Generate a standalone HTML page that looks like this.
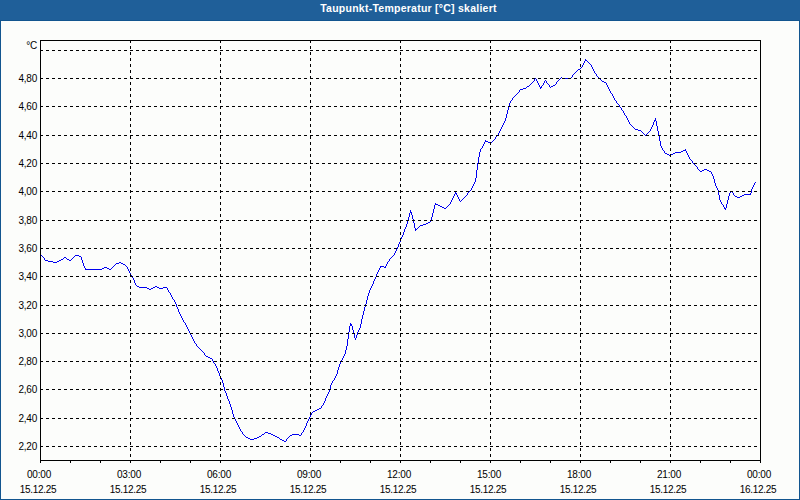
<!DOCTYPE html>
<html><head><meta charset="utf-8"><style>
html,body{margin:0;padding:0;}
body{width:800px;height:500px;position:relative;overflow:hidden;background:#12558f;font-family:"Liberation Sans",sans-serif;}

#hdr{position:absolute;left:0;top:0;width:800px;height:20px;background:#1f5f99;}
#ttl{position:absolute;left:0;top:-2px;width:817px;height:20px;line-height:20px;text-align:center;color:#fff;font-weight:bold;font-size:10.5px;letter-spacing:0.25px;}
#cnt{position:absolute;left:1px;top:21px;width:798px;height:478px;background:#fcfdfb;}
svg{position:absolute;left:0;top:0;}
.yl{position:absolute;left:0;width:37px;text-align:right;font-size:10px;line-height:12px;height:12px;color:#000;}
.xl{position:absolute;width:80px;text-align:center;font-size:10px;line-height:12px;height:12px;color:#000;}
.d{letter-spacing:-0.3px}
.t{letter-spacing:-0.2px}
.yl{letter-spacing:-0.25px}
</style></head><body>
<div id="hdr"></div><div id="ttl">Taupunkt-Temperatur [°C] skaliert</div>
<div id="cnt"></div>

<svg width="800" height="500" viewBox="0 0 800 500" shape-rendering="crispEdges"><path fill="#0000f0" d="M585 59h1v1h-1zM585 60h2v1h-2zM584 61h1v1h-1zM587 61h1v1h-1zM584 62h1v1h-1zM588 62h1v1h-1zM583 63h1v1h-1zM589 63h1v1h-1zM583 64h1v1h-1zM590 64h1v1h-1zM582 65h1v1h-1zM591 65h1v1h-1zM582 66h1v1h-1zM591 66h1v1h-1zM581 67h1v1h-1zM592 67h1v1h-1zM580 68h1v1h-1zM592 68h1v1h-1zM578 69h2v1h-2zM593 69h1v1h-1zM577 70h1v1h-1zM593 70h1v1h-1zM576 71h1v1h-1zM594 71h1v1h-1zM575 72h1v1h-1zM594 72h1v1h-1zM574 73h1v1h-1zM595 73h1v1h-1zM573 74h1v1h-1zM596 74h1v1h-1zM572 75h1v1h-1zM596 75h1v1h-1zM572 76h1v1h-1zM597 76h1v1h-1zM561 77h1v1h-1zM571 77h1v1h-1zM598 77h1v1h-1zM535 78h1v1h-1zM560 78h1v1h-1zM562 78h9v1h-9zM599 78h1v1h-1zM534 79h1v1h-1zM536 79h1v1h-1zM559 79h1v1h-1zM600 79h1v1h-1zM534 80h1v1h-1zM536 80h1v1h-1zM545 80h1v1h-1zM558 80h1v1h-1zM601 80h1v1h-1zM533 81h1v1h-1zM537 81h1v1h-1zM544 81h1v1h-1zM546 81h1v1h-1zM557 81h1v1h-1zM602 81h2v1h-2zM532 82h1v1h-1zM537 82h1v1h-1zM544 82h1v1h-1zM546 82h1v1h-1zM556 82h1v1h-1zM604 82h2v1h-2zM531 83h1v1h-1zM538 83h1v1h-1zM543 83h1v1h-1zM547 83h1v1h-1zM556 83h1v1h-1zM606 83h1v1h-1zM530 84h1v1h-1zM538 84h1v1h-1zM543 84h1v1h-1zM548 84h1v1h-1zM555 84h1v1h-1zM606 84h1v1h-1zM529 85h1v1h-1zM539 85h1v1h-1zM542 85h1v1h-1zM549 85h1v1h-1zM553 85h2v1h-2zM607 85h1v1h-1zM527 86h2v1h-2zM539 86h1v1h-1zM541 86h1v1h-1zM549 86h1v1h-1zM551 86h2v1h-2zM607 86h1v1h-1zM526 87h1v1h-1zM540 87h2v1h-2zM550 87h1v1h-1zM608 87h1v1h-1zM523 88h3v1h-3zM540 88h1v1h-1zM608 88h1v1h-1zM520 89h3v1h-3zM609 89h1v1h-1zM519 90h1v1h-1zM609 90h1v1h-1zM519 91h1v1h-1zM610 91h1v1h-1zM518 92h1v1h-1zM610 92h1v1h-1zM517 93h1v1h-1zM611 93h1v1h-1zM516 94h1v1h-1zM612 94h1v1h-1zM515 95h1v1h-1zM612 95h1v1h-1zM514 96h1v1h-1zM613 96h1v1h-1zM513 97h1v1h-1zM613 97h1v1h-1zM512 98h1v1h-1zM614 98h1v1h-1zM512 99h1v1h-1zM614 99h1v1h-1zM511 100h1v1h-1zM615 100h1v1h-1zM510 101h1v1h-1zM616 101h1v1h-1zM510 102h1v1h-1zM616 102h1v1h-1zM509 103h1v1h-1zM617 103h1v1h-1zM509 104h1v1h-1zM618 104h1v1h-1zM509 105h1v1h-1zM619 105h1v1h-1zM508 106h1v1h-1zM619 106h1v1h-1zM508 107h1v1h-1zM620 107h1v1h-1zM508 108h1v1h-1zM621 108h1v1h-1zM508 109h1v1h-1zM621 109h1v1h-1zM507 110h1v1h-1zM622 110h1v1h-1zM507 111h1v1h-1zM623 111h1v1h-1zM507 112h1v1h-1zM623 112h1v1h-1zM507 113h1v1h-1zM624 113h1v1h-1zM506 114h1v1h-1zM624 114h1v1h-1zM506 115h1v1h-1zM625 115h1v1h-1zM506 116h1v1h-1zM626 116h1v1h-1zM506 117h1v1h-1zM626 117h1v1h-1zM505 118h1v1h-1zM627 118h1v1h-1zM655 118h1v1h-1zM505 119h1v1h-1zM627 119h1v1h-1zM655 119h1v1h-1zM505 120h1v1h-1zM628 120h1v1h-1zM654 120h2v1h-2zM504 121h1v1h-1zM628 121h1v1h-1zM654 121h1v1h-1zM656 121h1v1h-1zM504 122h1v1h-1zM629 122h1v1h-1zM653 122h1v1h-1zM656 122h1v1h-1zM503 123h1v1h-1zM629 123h1v1h-1zM653 123h1v1h-1zM656 123h1v1h-1zM503 124h1v1h-1zM630 124h1v1h-1zM653 124h1v1h-1zM656 124h1v1h-1zM502 125h1v1h-1zM631 125h1v1h-1zM652 125h1v1h-1zM656 125h1v1h-1zM502 126h1v1h-1zM632 126h1v1h-1zM652 126h1v1h-1zM657 126h1v1h-1zM501 127h1v1h-1zM633 127h1v1h-1zM651 127h1v1h-1zM657 127h1v1h-1zM501 128h1v1h-1zM634 128h1v1h-1zM651 128h1v1h-1zM657 128h1v1h-1zM500 129h1v1h-1zM635 129h3v1h-3zM650 129h1v1h-1zM657 129h1v1h-1zM500 130h1v1h-1zM638 130h3v1h-3zM650 130h1v1h-1zM657 130h1v1h-1zM499 131h1v1h-1zM641 131h1v1h-1zM649 131h1v1h-1zM658 131h1v1h-1zM499 132h1v1h-1zM642 132h1v1h-1zM648 132h1v1h-1zM658 132h1v1h-1zM498 133h1v1h-1zM643 133h1v1h-1zM647 133h1v1h-1zM658 133h1v1h-1zM498 134h1v1h-1zM644 134h1v1h-1zM646 134h1v1h-1zM658 134h1v1h-1zM497 135h1v1h-1zM645 135h1v1h-1zM658 135h1v1h-1zM496 136h1v1h-1zM659 136h1v1h-1zM495 137h1v1h-1zM659 137h1v1h-1zM495 138h1v1h-1zM659 138h1v1h-1zM494 139h1v1h-1zM659 139h1v1h-1zM485 140h1v1h-1zM493 140h1v1h-1zM659 140h1v1h-1zM485 141h3v1h-3zM492 141h1v1h-1zM660 141h1v1h-1zM484 142h1v1h-1zM488 142h4v1h-4zM660 142h1v1h-1zM484 143h1v1h-1zM660 143h1v1h-1zM483 144h1v1h-1zM660 144h1v1h-1zM483 145h1v1h-1zM660 145h1v1h-1zM482 146h1v1h-1zM661 146h1v1h-1zM482 147h1v1h-1zM661 147h1v1h-1zM481 148h1v1h-1zM662 148h1v1h-1zM480 149h1v1h-1zM662 149h1v1h-1zM685 149h1v1h-1zM480 150h1v1h-1zM663 150h1v1h-1zM683 150h3v1h-3zM480 151h1v1h-1zM664 151h1v1h-1zM681 151h2v1h-2zM686 151h1v1h-1zM479 152h1v1h-1zM664 152h1v1h-1zM675 152h6v1h-6zM686 152h1v1h-1zM479 153h1v1h-1zM665 153h2v1h-2zM673 153h2v1h-2zM687 153h1v1h-1zM479 154h1v1h-1zM667 154h2v1h-2zM671 154h2v1h-2zM687 154h1v1h-1zM479 155h1v1h-1zM669 155h2v1h-2zM688 155h1v1h-1zM479 156h1v1h-1zM688 156h1v1h-1zM478 157h1v1h-1zM689 157h1v1h-1zM478 158h1v1h-1zM689 158h1v1h-1zM478 159h1v1h-1zM690 159h1v1h-1zM478 160h1v1h-1zM691 160h1v1h-1zM478 161h1v1h-1zM692 161h1v1h-1zM478 162h1v1h-1zM692 162h1v1h-1zM477 163h1v1h-1zM693 163h1v1h-1zM477 164h1v1h-1zM694 164h1v1h-1zM477 165h1v1h-1zM695 165h1v1h-1zM477 166h1v1h-1zM696 166h1v1h-1zM477 167h1v1h-1zM697 167h1v1h-1zM477 168h1v1h-1zM697 168h1v1h-1zM477 169h1v1h-1zM698 169h1v1h-1zM704 169h3v1h-3zM476 170h1v1h-1zM699 170h1v1h-1zM702 170h2v1h-2zM707 170h2v1h-2zM476 171h1v1h-1zM700 171h2v1h-2zM709 171h2v1h-2zM476 172h1v1h-1zM711 172h1v1h-1zM476 173h1v1h-1zM711 173h1v1h-1zM476 174h1v1h-1zM712 174h1v1h-1zM476 175h1v1h-1zM712 175h1v1h-1zM476 176h1v1h-1zM713 176h1v1h-1zM476 177h1v1h-1zM713 177h1v1h-1zM475 178h1v1h-1zM713 178h1v1h-1zM475 179h1v1h-1zM714 179h1v1h-1zM475 180h1v1h-1zM714 180h1v1h-1zM475 181h1v1h-1zM714 181h1v1h-1zM474 182h1v1h-1zM714 182h1v1h-1zM755 182h1v1h-1zM474 183h1v1h-1zM715 183h1v1h-1zM754 183h1v1h-1zM473 184h1v1h-1zM715 184h1v1h-1zM754 184h1v1h-1zM473 185h1v1h-1zM715 185h1v1h-1zM753 185h1v1h-1zM472 186h1v1h-1zM716 186h1v1h-1zM753 186h1v1h-1zM472 187h1v1h-1zM716 187h1v1h-1zM752 187h1v1h-1zM471 188h1v1h-1zM717 188h1v1h-1zM752 188h1v1h-1zM471 189h1v1h-1zM717 189h1v1h-1zM751 189h1v1h-1zM470 190h1v1h-1zM718 190h1v1h-1zM751 190h1v1h-1zM469 191h1v1h-1zM718 191h1v1h-1zM731 191h1v1h-1zM751 191h1v1h-1zM455 192h1v1h-1zM468 192h1v1h-1zM718 192h1v1h-1zM730 192h1v1h-1zM732 192h1v1h-1zM751 192h1v1h-1zM455 193h2v1h-2zM467 193h1v1h-1zM718 193h1v1h-1zM729 193h1v1h-1zM733 193h1v1h-1zM750 193h1v1h-1zM454 194h1v1h-1zM456 194h1v1h-1zM467 194h1v1h-1zM718 194h1v1h-1zM729 194h1v1h-1zM733 194h1v1h-1zM744 194h7v1h-7zM454 195h1v1h-1zM457 195h1v1h-1zM466 195h1v1h-1zM719 195h1v1h-1zM729 195h1v1h-1zM734 195h1v1h-1zM742 195h2v1h-2zM453 196h1v1h-1zM457 196h1v1h-1zM465 196h1v1h-1zM719 196h1v1h-1zM728 196h1v1h-1zM735 196h2v1h-2zM740 196h2v1h-2zM453 197h1v1h-1zM458 197h1v1h-1zM464 197h1v1h-1zM719 197h1v1h-1zM728 197h1v1h-1zM737 197h3v1h-3zM452 198h1v1h-1zM458 198h1v1h-1zM463 198h1v1h-1zM719 198h1v1h-1zM728 198h1v1h-1zM452 199h1v1h-1zM459 199h1v1h-1zM462 199h1v1h-1zM719 199h1v1h-1zM728 199h1v1h-1zM451 200h1v1h-1zM459 200h1v1h-1zM461 200h1v1h-1zM720 200h1v1h-1zM727 200h1v1h-1zM451 201h1v1h-1zM460 201h1v1h-1zM720 201h1v1h-1zM727 201h1v1h-1zM450 202h1v1h-1zM721 202h1v1h-1zM727 202h1v1h-1zM435 203h1v1h-1zM450 203h1v1h-1zM721 203h1v1h-1zM727 203h1v1h-1zM435 204h3v1h-3zM449 204h1v1h-1zM722 204h1v1h-1zM726 204h1v1h-1zM434 205h1v1h-1zM438 205h2v1h-2zM448 205h1v1h-1zM723 205h1v1h-1zM726 205h1v1h-1zM434 206h1v1h-1zM440 206h2v1h-2zM447 206h1v1h-1zM723 206h1v1h-1zM726 206h1v1h-1zM434 207h1v1h-1zM442 207h2v1h-2zM446 207h1v1h-1zM724 207h1v1h-1zM726 207h1v1h-1zM434 208h1v1h-1zM444 208h2v1h-2zM724 208h2v1h-2zM433 209h1v1h-1zM725 209h1v1h-1zM410 210h1v1h-1zM433 210h1v1h-1zM410 211h1v1h-1zM433 211h1v1h-1zM410 212h2v1h-2zM433 212h1v1h-1zM409 213h1v1h-1zM411 213h1v1h-1zM432 213h1v1h-1zM409 214h1v1h-1zM411 214h1v1h-1zM432 214h1v1h-1zM409 215h1v1h-1zM412 215h1v1h-1zM432 215h1v1h-1zM409 216h1v1h-1zM412 216h1v1h-1zM432 216h1v1h-1zM408 217h1v1h-1zM412 217h1v1h-1zM431 217h1v1h-1zM408 218h1v1h-1zM412 218h1v1h-1zM431 218h1v1h-1zM408 219h1v1h-1zM413 219h1v1h-1zM431 219h1v1h-1zM408 220h1v1h-1zM413 220h1v1h-1zM431 220h1v1h-1zM407 221h1v1h-1zM413 221h1v1h-1zM430 221h1v1h-1zM407 222h1v1h-1zM413 222h1v1h-1zM428 222h2v1h-2zM407 223h1v1h-1zM414 223h1v1h-1zM426 223h2v1h-2zM406 224h1v1h-1zM414 224h1v1h-1zM423 224h3v1h-3zM406 225h1v1h-1zM414 225h1v1h-1zM420 225h3v1h-3zM406 226h1v1h-1zM414 226h1v1h-1zM419 226h1v1h-1zM405 227h1v1h-1zM414 227h1v1h-1zM418 227h1v1h-1zM405 228h1v1h-1zM415 228h1v1h-1zM417 228h1v1h-1zM404 229h1v1h-1zM415 229h2v1h-2zM404 230h1v1h-1zM415 230h1v1h-1zM404 231h1v1h-1zM403 232h1v1h-1zM403 233h1v1h-1zM403 234h1v1h-1zM402 235h1v1h-1zM402 236h1v1h-1zM401 237h1v1h-1zM401 238h1v1h-1zM400 239h1v1h-1zM400 240h1v1h-1zM400 241h1v1h-1zM399 242h1v1h-1zM399 243h1v1h-1zM398 244h1v1h-1zM398 245h1v1h-1zM398 246h1v1h-1zM397 247h1v1h-1zM397 248h1v1h-1zM396 249h1v1h-1zM396 250h1v1h-1zM395 251h1v1h-1zM395 252h1v1h-1zM394 253h1v1h-1zM394 254h1v1h-1zM40 255h2v1h-2zM75 255h4v1h-4zM393 255h1v1h-1zM42 256h1v1h-1zM74 256h1v1h-1zM79 256h2v1h-2zM392 256h1v1h-1zM43 257h1v1h-1zM64 257h2v1h-2zM73 257h1v1h-1zM81 257h1v1h-1zM391 257h1v1h-1zM44 258h1v1h-1zM63 258h1v1h-1zM66 258h1v1h-1zM72 258h1v1h-1zM81 258h1v1h-1zM390 258h1v1h-1zM44 259h1v1h-1zM61 259h2v1h-2zM67 259h2v1h-2zM71 259h1v1h-1zM81 259h1v1h-1zM389 259h1v1h-1zM45 260h3v1h-3zM59 260h2v1h-2zM69 260h2v1h-2zM82 260h1v1h-1zM389 260h1v1h-1zM48 261h5v1h-5zM57 261h2v1h-2zM82 261h1v1h-1zM388 261h1v1h-1zM53 262h4v1h-4zM82 262h1v1h-1zM119 262h2v1h-2zM387 262h1v1h-1zM83 263h1v1h-1zM116 263h3v1h-3zM121 263h2v1h-2zM387 263h1v1h-1zM83 264h1v1h-1zM115 264h1v1h-1zM123 264h2v1h-2zM386 264h1v1h-1zM83 265h1v1h-1zM114 265h1v1h-1zM125 265h1v1h-1zM386 265h1v1h-1zM84 266h1v1h-1zM113 266h1v1h-1zM126 266h1v1h-1zM380 266h4v1h-4zM385 266h1v1h-1zM84 267h1v1h-1zM104 267h3v1h-3zM112 267h1v1h-1zM127 267h1v1h-1zM380 267h1v1h-1zM384 267h2v1h-2zM85 268h1v1h-1zM102 268h2v1h-2zM107 268h2v1h-2zM111 268h1v1h-1zM127 268h1v1h-1zM379 268h1v1h-1zM85 269h17v1h-17zM109 269h2v1h-2zM128 269h1v1h-1zM379 269h1v1h-1zM128 270h1v1h-1zM378 270h1v1h-1zM129 271h1v1h-1zM378 271h1v1h-1zM129 272h1v1h-1zM377 272h1v1h-1zM130 273h1v1h-1zM377 273h1v1h-1zM130 274h1v1h-1zM376 274h1v1h-1zM131 275h1v1h-1zM376 275h1v1h-1zM132 276h1v1h-1zM376 276h1v1h-1zM132 277h1v1h-1zM375 277h1v1h-1zM133 278h1v1h-1zM375 278h1v1h-1zM133 279h1v1h-1zM374 279h1v1h-1zM134 280h1v1h-1zM374 280h1v1h-1zM134 281h1v1h-1zM373 281h1v1h-1zM134 282h1v1h-1zM373 282h1v1h-1zM135 283h1v1h-1zM373 283h1v1h-1zM135 284h1v1h-1zM372 284h1v1h-1zM136 285h1v1h-1zM372 285h1v1h-1zM137 286h2v1h-2zM155 286h2v1h-2zM371 286h1v1h-1zM139 287h8v1h-8zM153 287h2v1h-2zM157 287h2v1h-2zM163 287h4v1h-4zM371 287h1v1h-1zM147 288h2v1h-2zM151 288h2v1h-2zM159 288h4v1h-4zM167 288h1v1h-1zM370 288h1v1h-1zM149 289h2v1h-2zM167 289h1v1h-1zM370 289h1v1h-1zM168 290h1v1h-1zM369 290h1v1h-1zM168 291h1v1h-1zM369 291h1v1h-1zM169 292h1v1h-1zM369 292h1v1h-1zM170 293h1v1h-1zM368 293h1v1h-1zM170 294h1v1h-1zM368 294h1v1h-1zM171 295h1v1h-1zM368 295h1v1h-1zM171 296h1v1h-1zM367 296h1v1h-1zM172 297h1v1h-1zM367 297h1v1h-1zM172 298h1v1h-1zM367 298h1v1h-1zM173 299h1v1h-1zM367 299h1v1h-1zM174 300h1v1h-1zM366 300h1v1h-1zM174 301h1v1h-1zM366 301h1v1h-1zM175 302h1v1h-1zM366 302h1v1h-1zM175 303h1v1h-1zM366 303h1v1h-1zM176 304h1v1h-1zM365 304h1v1h-1zM176 305h1v1h-1zM365 305h1v1h-1zM176 306h1v1h-1zM365 306h1v1h-1zM177 307h1v1h-1zM364 307h1v1h-1zM177 308h1v1h-1zM364 308h1v1h-1zM178 309h1v1h-1zM364 309h1v1h-1zM178 310h1v1h-1zM364 310h1v1h-1zM178 311h1v1h-1zM363 311h1v1h-1zM179 312h1v1h-1zM363 312h1v1h-1zM179 313h1v1h-1zM363 313h1v1h-1zM180 314h1v1h-1zM363 314h1v1h-1zM180 315h1v1h-1zM362 315h1v1h-1zM181 316h1v1h-1zM362 316h1v1h-1zM181 317h1v1h-1zM362 317h1v1h-1zM182 318h1v1h-1zM362 318h1v1h-1zM182 319h1v1h-1zM361 319h1v1h-1zM183 320h1v1h-1zM361 320h1v1h-1zM183 321h1v1h-1zM361 321h1v1h-1zM184 322h1v1h-1zM361 322h1v1h-1zM185 323h1v1h-1zM350 323h1v1h-1zM361 323h1v1h-1zM185 324h1v1h-1zM350 324h2v1h-2zM360 324h1v1h-1zM186 325h1v1h-1zM350 325h2v1h-2zM360 325h1v1h-1zM186 326h1v1h-1zM349 326h1v1h-1zM352 326h1v1h-1zM360 326h1v1h-1zM187 327h1v1h-1zM349 327h1v1h-1zM352 327h1v1h-1zM360 327h1v1h-1zM187 328h1v1h-1zM349 328h1v1h-1zM352 328h1v1h-1zM359 328h1v1h-1zM188 329h1v1h-1zM349 329h1v1h-1zM352 329h1v1h-1zM359 329h1v1h-1zM188 330h1v1h-1zM349 330h1v1h-1zM353 330h1v1h-1zM358 330h1v1h-1zM189 331h1v1h-1zM349 331h1v1h-1zM353 331h1v1h-1zM358 331h1v1h-1zM189 332h1v1h-1zM348 332h1v1h-1zM353 332h1v1h-1zM357 332h1v1h-1zM190 333h1v1h-1zM348 333h1v1h-1zM353 333h1v1h-1zM357 333h1v1h-1zM190 334h1v1h-1zM348 334h1v1h-1zM354 334h1v1h-1zM357 334h1v1h-1zM191 335h1v1h-1zM348 335h1v1h-1zM354 335h1v1h-1zM356 335h1v1h-1zM191 336h1v1h-1zM348 336h1v1h-1zM354 336h1v1h-1zM356 336h1v1h-1zM192 337h1v1h-1zM348 337h1v1h-1zM354 337h1v1h-1zM356 337h1v1h-1zM192 338h1v1h-1zM348 338h1v1h-1zM355 338h1v1h-1zM193 339h1v1h-1zM347 339h1v1h-1zM355 339h1v1h-1zM193 340h1v1h-1zM347 340h1v1h-1zM194 341h1v1h-1zM347 341h1v1h-1zM194 342h1v1h-1zM347 342h1v1h-1zM195 343h1v1h-1zM347 343h1v1h-1zM196 344h1v1h-1zM347 344h1v1h-1zM196 345h1v1h-1zM347 345h1v1h-1zM197 346h1v1h-1zM346 346h1v1h-1zM198 347h1v1h-1zM346 347h1v1h-1zM199 348h1v1h-1zM346 348h1v1h-1zM200 349h1v1h-1zM346 349h1v1h-1zM201 350h1v1h-1zM345 350h1v1h-1zM202 351h1v1h-1zM345 351h1v1h-1zM203 352h1v1h-1zM345 352h1v1h-1zM204 353h1v1h-1zM345 353h1v1h-1zM204 354h1v1h-1zM344 354h1v1h-1zM205 355h1v1h-1zM344 355h1v1h-1zM206 356h2v1h-2zM343 356h1v1h-1zM208 357h2v1h-2zM343 357h1v1h-1zM210 358h2v1h-2zM342 358h1v1h-1zM212 359h1v1h-1zM342 359h1v1h-1zM212 360h1v1h-1zM341 360h1v1h-1zM213 361h1v1h-1zM341 361h1v1h-1zM213 362h1v1h-1zM340 362h1v1h-1zM214 363h1v1h-1zM340 363h1v1h-1zM215 364h1v1h-1zM339 364h1v1h-1zM215 365h1v1h-1zM339 365h1v1h-1zM216 366h1v1h-1zM339 366h1v1h-1zM216 367h1v1h-1zM338 367h1v1h-1zM217 368h1v1h-1zM338 368h1v1h-1zM217 369h1v1h-1zM338 369h1v1h-1zM217 370h1v1h-1zM337 370h1v1h-1zM218 371h1v1h-1zM337 371h1v1h-1zM218 372h1v1h-1zM337 372h1v1h-1zM219 373h1v1h-1zM337 373h1v1h-1zM219 374h1v1h-1zM336 374h1v1h-1zM219 375h1v1h-1zM336 375h1v1h-1zM220 376h1v1h-1zM335 376h1v1h-1zM220 377h1v1h-1zM335 377h1v1h-1zM221 378h1v1h-1zM334 378h1v1h-1zM221 379h1v1h-1zM334 379h1v1h-1zM222 380h1v1h-1zM333 380h1v1h-1zM222 381h1v1h-1zM332 381h1v1h-1zM222 382h1v1h-1zM332 382h1v1h-1zM223 383h1v1h-1zM331 383h1v1h-1zM223 384h1v1h-1zM331 384h1v1h-1zM223 385h1v1h-1zM330 385h1v1h-1zM223 386h1v1h-1zM330 386h1v1h-1zM224 387h1v1h-1zM330 387h1v1h-1zM224 388h1v1h-1zM330 388h1v1h-1zM224 389h1v1h-1zM330 389h1v1h-1zM224 390h1v1h-1zM329 390h1v1h-1zM225 391h1v1h-1zM329 391h1v1h-1zM225 392h1v1h-1zM328 392h1v1h-1zM226 393h1v1h-1zM328 393h1v1h-1zM226 394h1v1h-1zM327 394h1v1h-1zM226 395h1v1h-1zM327 395h1v1h-1zM227 396h1v1h-1zM326 396h1v1h-1zM227 397h1v1h-1zM326 397h1v1h-1zM227 398h1v1h-1zM325 398h1v1h-1zM228 399h1v1h-1zM325 399h1v1h-1zM228 400h1v1h-1zM325 400h1v1h-1zM229 401h1v1h-1zM324 401h1v1h-1zM229 402h1v1h-1zM324 402h1v1h-1zM229 403h1v1h-1zM323 403h1v1h-1zM230 404h1v1h-1zM323 404h1v1h-1zM230 405h1v1h-1zM322 405h1v1h-1zM230 406h1v1h-1zM321 406h1v1h-1zM231 407h1v1h-1zM321 407h1v1h-1zM231 408h1v1h-1zM319 408h2v1h-2zM231 409h1v1h-1zM317 409h2v1h-2zM232 410h1v1h-1zM315 410h2v1h-2zM232 411h1v1h-1zM313 411h2v1h-2zM232 412h1v1h-1zM312 412h1v1h-1zM232 413h1v1h-1zM311 413h1v1h-1zM233 414h1v1h-1zM311 414h1v1h-1zM233 415h1v1h-1zM310 415h1v1h-1zM233 416h1v1h-1zM310 416h1v1h-1zM234 417h1v1h-1zM309 417h1v1h-1zM234 418h1v1h-1zM309 418h1v1h-1zM235 419h1v1h-1zM308 419h1v1h-1zM235 420h1v1h-1zM308 420h1v1h-1zM236 421h1v1h-1zM307 421h1v1h-1zM236 422h1v1h-1zM307 422h1v1h-1zM237 423h1v1h-1zM306 423h1v1h-1zM237 424h1v1h-1zM306 424h1v1h-1zM238 425h1v1h-1zM306 425h1v1h-1zM238 426h1v1h-1zM305 426h1v1h-1zM239 427h1v1h-1zM305 427h1v1h-1zM239 428h1v1h-1zM304 428h1v1h-1zM240 429h1v1h-1zM304 429h1v1h-1zM240 430h1v1h-1zM303 430h1v1h-1zM241 431h1v1h-1zM303 431h1v1h-1zM242 432h1v1h-1zM265 432h3v1h-3zM302 432h1v1h-1zM242 433h1v1h-1zM264 433h1v1h-1zM268 433h3v1h-3zM301 433h1v1h-1zM243 434h1v1h-1zM262 434h2v1h-2zM271 434h2v1h-2zM292 434h7v1h-7zM301 434h1v1h-1zM244 435h1v1h-1zM261 435h1v1h-1zM273 435h2v1h-2zM290 435h2v1h-2zM299 435h2v1h-2zM245 436h1v1h-1zM259 436h2v1h-2zM275 436h2v1h-2zM289 436h1v1h-1zM246 437h2v1h-2zM257 437h2v1h-2zM277 437h2v1h-2zM288 437h1v1h-1zM248 438h2v1h-2zM254 438h3v1h-3zM279 438h1v1h-1zM287 438h1v1h-1zM250 439h4v1h-4zM280 439h2v1h-2zM286 439h1v1h-1zM282 440h2v1h-2zM286 440h1v1h-1zM284 441h2v1h-2z"/><line x1="40" y1="50.5" x2="760" y2="50.5" stroke="#000" stroke-dasharray="3 3"/><line x1="40" y1="78.5" x2="760" y2="78.5" stroke="#000" stroke-dasharray="3 3"/><line x1="40" y1="106.5" x2="760" y2="106.5" stroke="#000" stroke-dasharray="3 3"/><line x1="40" y1="135.5" x2="760" y2="135.5" stroke="#000" stroke-dasharray="3 3"/><line x1="40" y1="163.5" x2="760" y2="163.5" stroke="#000" stroke-dasharray="3 3"/><line x1="40" y1="191.5" x2="760" y2="191.5" stroke="#000" stroke-dasharray="3 3"/><line x1="40" y1="220.5" x2="760" y2="220.5" stroke="#000" stroke-dasharray="3 3"/><line x1="40" y1="248.5" x2="760" y2="248.5" stroke="#000" stroke-dasharray="3 3"/><line x1="40" y1="276.5" x2="760" y2="276.5" stroke="#000" stroke-dasharray="3 3"/><line x1="40" y1="305.5" x2="760" y2="305.5" stroke="#000" stroke-dasharray="3 3"/><line x1="40" y1="333.5" x2="760" y2="333.5" stroke="#000" stroke-dasharray="3 3"/><line x1="40" y1="361.5" x2="760" y2="361.5" stroke="#000" stroke-dasharray="3 3"/><line x1="40" y1="389.5" x2="760" y2="389.5" stroke="#000" stroke-dasharray="3 3"/><line x1="40" y1="418.5" x2="760" y2="418.5" stroke="#000" stroke-dasharray="3 3"/><line x1="40" y1="446.5" x2="760" y2="446.5" stroke="#000" stroke-dasharray="3 3"/><line x1="130.5" y1="40" x2="130.5" y2="460" stroke="#000" stroke-dasharray="3 3"/><line x1="220.5" y1="40" x2="220.5" y2="460" stroke="#000" stroke-dasharray="3 3"/><line x1="310.5" y1="40" x2="310.5" y2="460" stroke="#000" stroke-dasharray="3 3"/><line x1="400.5" y1="40" x2="400.5" y2="460" stroke="#000" stroke-dasharray="3 3"/><line x1="490.5" y1="40" x2="490.5" y2="460" stroke="#000" stroke-dasharray="3 3"/><line x1="580.5" y1="40" x2="580.5" y2="460" stroke="#000" stroke-dasharray="3 3"/><line x1="670.5" y1="40" x2="670.5" y2="460" stroke="#000" stroke-dasharray="3 3"/><rect x="40.5" y="40.5" width="720" height="420" fill="none" stroke="#000"/><line x1="40.5" y1="460" x2="40.5" y2="463" stroke="#000"/><line x1="70.5" y1="460" x2="70.5" y2="463" stroke="#000"/><line x1="100.5" y1="460" x2="100.5" y2="463" stroke="#000"/><line x1="130.5" y1="460" x2="130.5" y2="463" stroke="#000"/><line x1="160.5" y1="460" x2="160.5" y2="463" stroke="#000"/><line x1="190.5" y1="460" x2="190.5" y2="463" stroke="#000"/><line x1="220.5" y1="460" x2="220.5" y2="463" stroke="#000"/><line x1="250.5" y1="460" x2="250.5" y2="463" stroke="#000"/><line x1="280.5" y1="460" x2="280.5" y2="463" stroke="#000"/><line x1="310.5" y1="460" x2="310.5" y2="463" stroke="#000"/><line x1="340.5" y1="460" x2="340.5" y2="463" stroke="#000"/><line x1="370.5" y1="460" x2="370.5" y2="463" stroke="#000"/><line x1="400.5" y1="460" x2="400.5" y2="463" stroke="#000"/><line x1="430.5" y1="460" x2="430.5" y2="463" stroke="#000"/><line x1="460.5" y1="460" x2="460.5" y2="463" stroke="#000"/><line x1="490.5" y1="460" x2="490.5" y2="463" stroke="#000"/><line x1="520.5" y1="460" x2="520.5" y2="463" stroke="#000"/><line x1="550.5" y1="460" x2="550.5" y2="463" stroke="#000"/><line x1="580.5" y1="460" x2="580.5" y2="463" stroke="#000"/><line x1="610.5" y1="460" x2="610.5" y2="463" stroke="#000"/><line x1="640.5" y1="460" x2="640.5" y2="463" stroke="#000"/><line x1="670.5" y1="460" x2="670.5" y2="463" stroke="#000"/><line x1="700.5" y1="460" x2="700.5" y2="463" stroke="#000"/><line x1="730.5" y1="460" x2="730.5" y2="463" stroke="#000"/><line x1="760.5" y1="460" x2="760.5" y2="463" stroke="#000"/></svg>
<div class="yl" style="top:40px">°C</div>
<div class="yl" style="top:73px">4,80</div>
<div class="yl" style="top:101px">4,60</div>
<div class="yl" style="top:130px">4,40</div>
<div class="yl" style="top:158px">4,20</div>
<div class="yl" style="top:186px">4,00</div>
<div class="yl" style="top:215px">3,80</div>
<div class="yl" style="top:243px">3,60</div>
<div class="yl" style="top:271px">3,40</div>
<div class="yl" style="top:300px">3,20</div>
<div class="yl" style="top:328px">3,00</div>
<div class="yl" style="top:356px">2,80</div>
<div class="yl" style="top:384px">2,60</div>
<div class="yl" style="top:413px">2,40</div>
<div class="yl" style="top:441px">2,20</div>
<div class="xl t" style="left:-1px;top:469px">00:00</div>
<div class="xl d" style="left:-2px;top:484px">15.12.25</div>
<div class="xl t" style="left:89px;top:469px">03:00</div>
<div class="xl d" style="left:88px;top:484px">15.12.25</div>
<div class="xl t" style="left:179px;top:469px">06:00</div>
<div class="xl d" style="left:178px;top:484px">15.12.25</div>
<div class="xl t" style="left:269px;top:469px">09:00</div>
<div class="xl d" style="left:268px;top:484px">15.12.25</div>
<div class="xl t" style="left:359px;top:469px">12:00</div>
<div class="xl d" style="left:358px;top:484px">15.12.25</div>
<div class="xl t" style="left:449px;top:469px">15:00</div>
<div class="xl d" style="left:448px;top:484px">15.12.25</div>
<div class="xl t" style="left:539px;top:469px">18:00</div>
<div class="xl d" style="left:538px;top:484px">15.12.25</div>
<div class="xl t" style="left:629px;top:469px">21:00</div>
<div class="xl d" style="left:628px;top:484px">15.12.25</div>
<div class="xl t" style="left:719px;top:469px">00:00</div>
<div class="xl d" style="left:718px;top:484px">16.12.25</div>
</body></html>
